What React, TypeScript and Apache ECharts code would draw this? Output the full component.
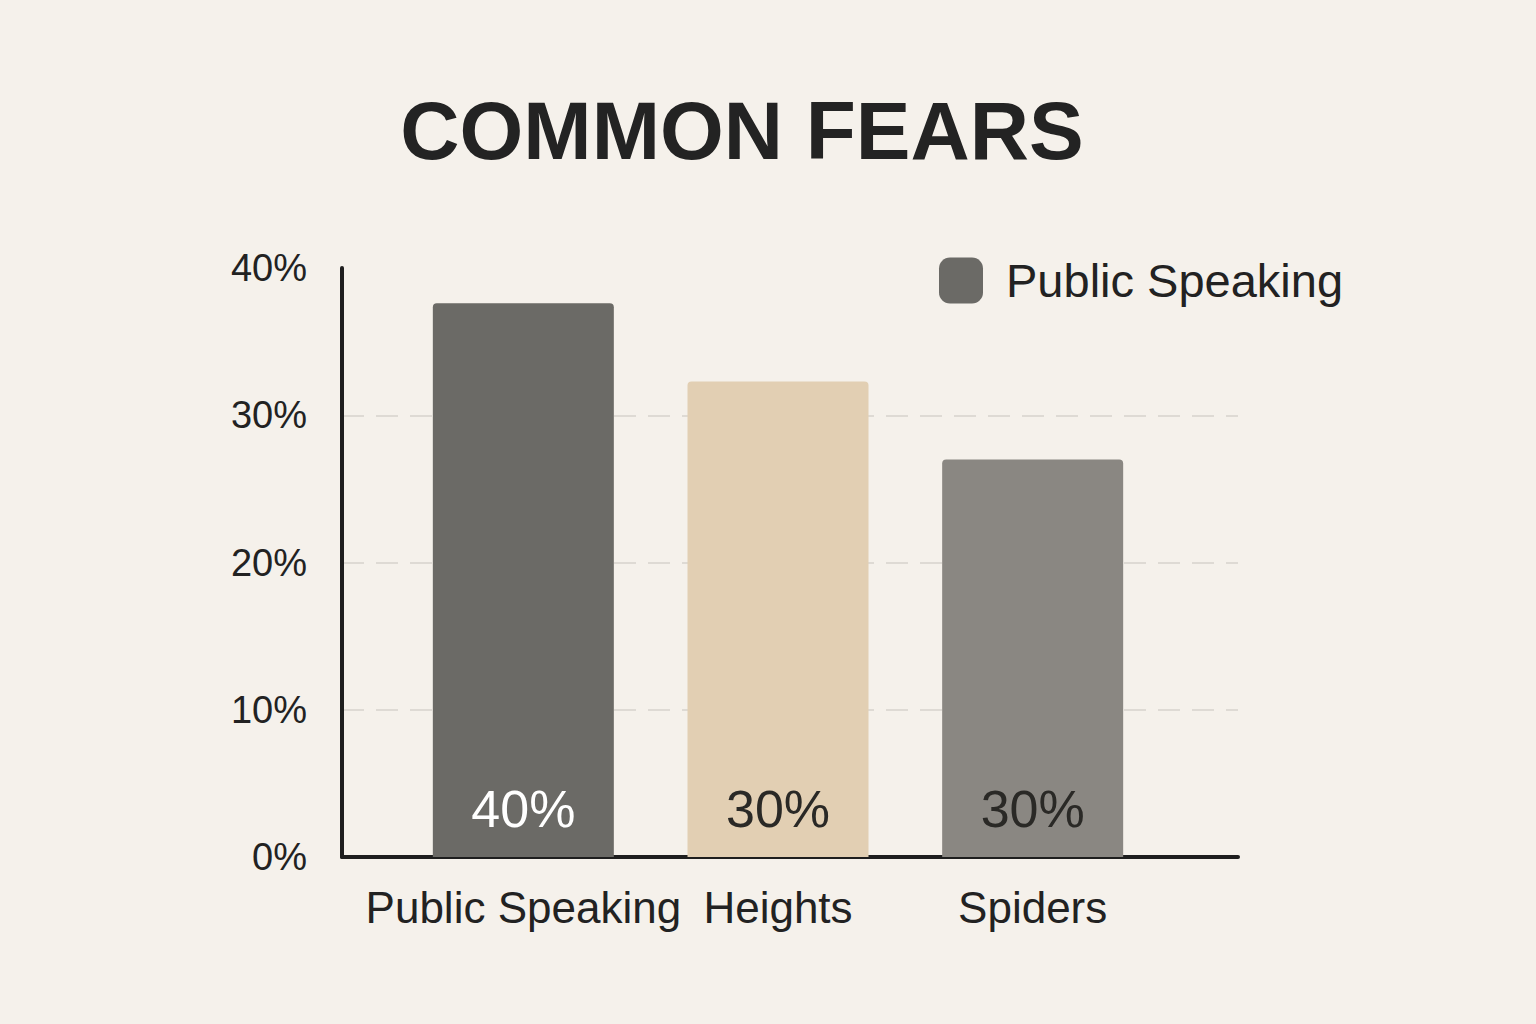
import * as echarts from 'echarts';
import { useEffect, useRef } from 'react';

// chart data
const categories = ['Public Speaking', 'Heights', 'Spiders'];
const values = [37.6, 32.3, 27.0];
const barLabels = ['40%', '30%', '30%'];
const barColors = ['#6b6a66', '#e2cfb3', '#8a8782'];
const labelColors = ['#ffffff', '#2a2926', '#2a2926'];
const yTicks = [0, 10, 20, 30, 40];

const FONT = 'Liberation Sans';

export default function App() {
  const ref = useRef<HTMLDivElement>(null);

  useEffect(() => {
    if (!ref.current) return;
    const chart = echarts.init(ref.current, null, { renderer: 'svg' });
    const top = 268;
    const bottom = 167;
    chart.setOption({
      animation: false,
      backgroundColor: '#f5f1eb',
      textStyle: { fontFamily: FONT },
      title: {
        text: 'COMMON FEARS',
        left: 737,
        textAlign: 'center',
        top: 84,
        textStyle: { fontSize: 82, fontWeight: 'bold', color: '#232323', fontFamily: FONT }
      },
      legend: {
        data: ['Public Speaking'],
        left: 934,
        top: 252,
        icon: 'roundRect',
        itemWidth: 44,
        itemHeight: 46,
        textStyle: { fontSize: 47, color: '#222', padding: [0, 0, 0, 18], fontFamily: FONT }
      },
      grid: [
        { left: 342, right: 298, top, bottom },
        { left: 396, right: 376, top, bottom }
      ],
      xAxis: [
        {
          gridIndex: 0,
          type: 'value',
          min: 0,
          max: 1,
          axisLine: { show: true, lineStyle: { color: '#1e1e1e', width: 4 } },
          axisTick: { show: false },
          axisLabel: { show: false },
          splitLine: { show: false }
        },
        {
          gridIndex: 1,
          type: 'category',
          data: categories,
          axisLine: { show: false },
          axisTick: { show: false },
          axisLabel: { interval: 0, fontSize: 44, color: '#222', margin: 28, fontFamily: FONT }
        }
      ],
      yAxis: [
        {
          gridIndex: 0,
          type: 'value',
          min: yTicks[0],
          max: yTicks[yTicks.length - 1],
          interval: 10,
          axisLine: { show: true, lineStyle: { color: '#1e1e1e', width: 4 } },
          axisTick: { show: false },
          axisLabel: {
            formatter: '{value}%',
            fontSize: 38,
            color: '#222',
            margin: 35,
            fontFamily: FONT,
            showMaxLabel: true
          },
          splitLine: {
            show: true,
            showMaxLine: false,
            showMinLine: false,
            lineStyle: { color: '#dedad4', width: 2, type: [22, 12] }
          }
        },
        {
          gridIndex: 1,
          type: 'value',
          min: yTicks[0],
          max: yTicks[yTicks.length - 1],
          interval: 10,
          show: false
        }
      ],
      series: [
        {
          name: 'Public Speaking',
          type: 'bar',
          xAxisIndex: 1,
          yAxisIndex: 1,
          barWidth: 181,
          itemStyle: { color: barColors[0], borderRadius: [4, 4, 0, 0] },
          data: values.map((v, i) => ({
            value: v,
            itemStyle: { color: barColors[i] },
            label: { color: labelColors[i] }
          })),
          label: {
            show: true,
            position: 'insideBottom',
            distance: 22,
            fontSize: 52,
            fontFamily: FONT,
            formatter: (p: any) => barLabels[p.dataIndex]
          }
        }
      ]
    });
    return () => chart.dispose();
  }, []);

  return (
    <div
      ref={ref}
      style={{ position: 'fixed', left: 0, top: 0, width: 1536, height: 1024 }}
    />
  );
}
